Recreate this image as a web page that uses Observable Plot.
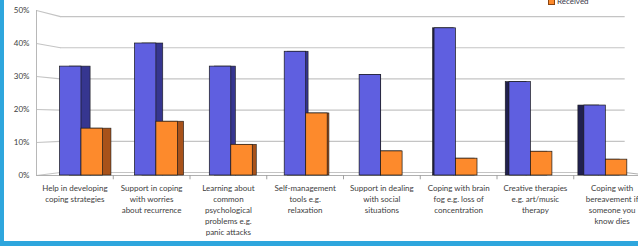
<!DOCTYPE html>
<html>
<head>
<meta charset="utf-8">
<script src="https://cdn.jsdelivr.net/npm/d3@7"></script>
<script src="https://cdn.jsdelivr.net/npm/@observablehq/plot@0.6"></script>
<style>
  html, body { margin: 0; padding: 0; background: #ffffff; overflow: hidden; }
  #wrap { position: relative; width: 638px; height: 246px; overflow: hidden; background: #fff; }
  #chart { position: absolute; left: 0; top: 0; }
  #borderL { position: absolute; left: 0; top: 0; width: 4px; height: 246px; background: #2ea6dd; }
  #borderB { position: absolute; left: 0; top: 241px; width: 638px; height: 5px; background: #2ea6dd; }
  #legend { position: absolute; left: 548px; top: -4px; font: 8px Lato, "Liberation Sans", sans-serif; color: #3a3a4a; display: flex; align-items: center; gap: 2px; }
  #legend .sw { width: 5px; height: 5px; background: #fd8a2c; border: 0.5px solid #8a4410; }
</style>
</head>
<body>
<div id="wrap">
  <div id="chart"></div>
  <div id="legend"><span class="sw"></span><span>Received</span></div>
  <div id="borderL"></div>
  <div id="borderB"></div>
</div>
<script>
// ---- data ----
const categories = [
  "Help in developing\ncoping strategies",
  "Support in coping\nwith worries\nabout recurrence",
  "Learning about\ncommon\npsychological\nproblems e.g.\npanic attacks",
  "Self-management\ntools e.g.\nrelaxation",
  "Support in dealing\nwith social\nsituations",
  "Coping with brain\nfog e.g. loss of\nconcentration",
  "Creative therapies\ne.g. art/music\ntherapy",
  "Coping with\nbereavement if\nsomeone you\nknow dies"
];
const wanted   = [33.0, 40.0, 33.0, 37.5, 30.5, 44.6, 28.3, 21.2];
const received = [14.2, 16.3, 9.3, 18.8, 7.3, 5.1, 7.2, 4.8];
const yTicks = [0, 10, 20, 30, 40, 50];

// ---- pseudo-3D geometry (in x index units / y value units) ----
const PAIR0 = 0.086, PAIR_STEP = 0.976, BAR_W = 0.28;
const VP = 4.05, K = 0.03;              // side-face depth toward vanishing point
const BACK_L = -0.187, BACK_R = 7.17, FRONT_R = 7.5;
const back = v => 0.909 + 0.945 * v;    // back-wall height for a front value

const bars = [];
categories.forEach((c, i) => {
  const pc = PAIR0 + PAIR_STEP * i;
  [["wanted", wanted[i], pc - BAR_W], ["received", received[i], pc]].forEach(([s, v, L]) => {
    const R = L + BAR_W;
    bars.push({
      series: s, value: v, L, R,
      bL: L + K * (VP - L), bR: R + K * (VP - R),
      leftSide: L > VP
    });
  });
});

const frontFill = {wanted: "#5f5fe0", received: "#fd8a2c"};
const sideFill = d => d.series === "wanted"
  ? (d.leftSide ? "#20204f" : "#363690")
  : (d.leftSide ? "#8a4212" : "#a8521a");

const grid = "#c4c4c4";
const chart = Plot.plot({
  width: 638, height: 246,
  marginLeft: 36, marginRight: -12, marginTop: 10, marginBottom: 71,
  x: {domain: [-0.5, 7.5], axis: null},
  y: {domain: [0, 50], axis: null},
  style: {fontFamily: "Lato, 'Liberation Sans', sans-serif", fontSize: "8px", color: "#404040", background: "transparent", overflow: "visible"},
  marks: [
    // gridlines: diagonal from the front axis to the back wall, then along the back wall
    Plot.link(yTicks, {x1: () => -0.5, y1: d => d, x2: () => BACK_L, y2: back, stroke: grid, strokeWidth: 1.2}),
    Plot.ruleY(yTicks, {y: back, x1: () => BACK_L, x2: () => BACK_R, stroke: grid, strokeWidth: 1.2}),
    Plot.link([0], {x1: () => BACK_R, y1: back, x2: () => FRONT_R, y2: d => d, stroke: "#b0b0b0", strokeWidth: 1}),
    // front axis and floor edge
    Plot.ruleX([-0.5], {y1: 0, y2: 50, stroke: "#b8b8b8", strokeWidth: 1}),
    Plot.ruleY([0], {x1: () => -0.5, x2: () => FRONT_R, stroke: "#b0b0b0", strokeWidth: 1}),
    // category separators
    Plot.ruleX(d3.range(0.5, 7, 1), {y1: 0, y2: -1.3, stroke: "#a0a0a0", strokeWidth: 1}),
    // side/back faces
    Plot.rectY(bars, {x1: "bL", x2: "bR", y1: 0, y2: "value", fill: sideFill, stroke: "#1a1a1a", strokeWidth: 0.6}),
    // front faces
    Plot.rectY(bars, {x1: "L", x2: "R", y1: 0, y2: "value", fill: d => frontFill[d.series], stroke: "#1a1a1a", strokeWidth: 0.7}),
    // y tick labels
    Plot.text(yTicks, {x: () => -0.5, y: d => d, text: d => d + "%", textAnchor: "end", dx: -7, fill: "#404040"}),
    // category labels
    Plot.text(categories, {x: (d, i) => i, y: () => 0, text: d => d, lineAnchor: "top", dy: 8, lineHeight: 1.375, fill: "#404040"})
  ]
});
document.getElementById("chart").appendChild(chart);
</script>
</body>
</html>
